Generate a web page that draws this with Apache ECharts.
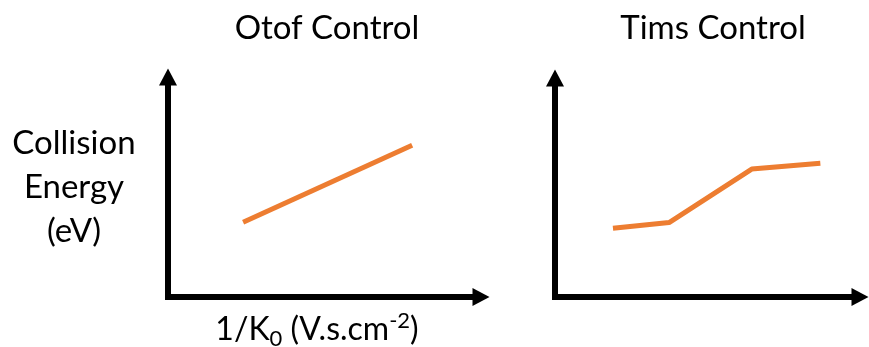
<!DOCTYPE html>
<html>
<head>
<meta charset="utf-8">
<script src="https://cdn.jsdelivr.net/npm/echarts@6/dist/echarts.min.js"></script>
<style>
html,body{margin:0;padding:0;background:#fff;}
#chart{width:869px;height:347px;}
</style>
</head>
<body>
<div id="chart"></div>
<script>
// Panel titles
const panelTitles = ['Otof Control', 'Tims Control'];
// Otof Control series (arbitrary units, 0-100 scale)
const otofX = [24, 78];
const otofY = [34, 69];
// Tims Control series (arbitrary units, 0-100 scale)
const timsX = [19, 37.4, 64.5, 87];
const timsY = [31.4, 34, 58.4, 61.1];
const yAxisName = 'Collision\nEnergy\n(eV)';
const xAxisName = '1/K{sub|0} (V.s.cm{sup|-2})';

const FONT = 'Lato';
const LINE_COLOR = '#ED7D31';

const chart = echarts.init(document.getElementById('chart'), null, {renderer: 'canvas'});

function axisLine() {
  return {
    show: true,
    symbol: ['none', 'triangle'],
    symbolSize: [18, 17],
    lineStyle: {color: '#000', width: 6, cap: 'square'}
  };
}

const baseAxis = {
  type: 'value', min: 0, max: 100,
  axisTick: {show: false}, axisLabel: {show: false}, splitLine: {show: false}
};

const option = {
  animation: false,
  backgroundColor: '#fff',
  title: [
    {text: panelTitles[0], left: 327, top: 12, textAlign: 'center', padding: 0,
     textStyle: {fontFamily: FONT, fontSize: 33, fontWeight: 'normal', color: '#000'}},
    {text: panelTitles[1], left: 713, top: 12, textAlign: 'center', padding: 0,
     textStyle: {fontFamily: FONT, fontSize: 33, fontWeight: 'normal', color: '#000'}}
  ],
  grid: [
    {left: 168, top: 77, width: 313, height: 220, outerBoundsMode: 'none', containLabel: false},
    {left: 555, top: 78, width: 305, height: 219, outerBoundsMode: 'none', containLabel: false}
  ],
  xAxis: [
    Object.assign({}, baseAxis, {
      gridIndex: 0, axisLine: axisLine(),
      name: xAxisName, nameLocation: 'middle', nameGap: 33,
      nameTextStyle: {
        fontFamily: FONT, fontSize: 32, color: '#000', padding: [0, 15, 0, 0],
        lineHeight: 40, verticalAlign: 'middle',
        rich: {
          sub: {fontFamily: FONT, fontSize: 22, color: '#000', verticalAlign: 'bottom', lineHeight: 40},
          sup: {fontFamily: FONT, fontSize: 22, color: '#000', verticalAlign: 'top', lineHeight: 40}
        }
      }
    }),
    Object.assign({}, baseAxis, {gridIndex: 1, axisLine: axisLine()})
  ],
  yAxis: [
    Object.assign({}, baseAxis, {
      gridIndex: 0, axisLine: axisLine(),
      name: yAxisName, nameLocation: 'middle', nameRotate: 0, nameGap: 94,
      nameTextStyle: {fontFamily: FONT, fontSize: 33, color: '#000', align: 'center', lineHeight: 44}
    }),
    Object.assign({}, baseAxis, {gridIndex: 1, axisLine: axisLine()})
  ],
  series: [
    {type: 'line', xAxisIndex: 0, yAxisIndex: 0, data: otofX.map((x, i) => [x, otofY[i]]),
     showSymbol: false, symbol: 'none', lineStyle: {color: LINE_COLOR, width: 5}},
    {type: 'line', xAxisIndex: 1, yAxisIndex: 1, data: timsX.map((x, i) => [x, timsY[i]]),
     showSymbol: false, symbol: 'none', lineStyle: {color: LINE_COLOR, width: 5}}
  ]
};
chart.setOption(option);
</script>
</body>
</html>
